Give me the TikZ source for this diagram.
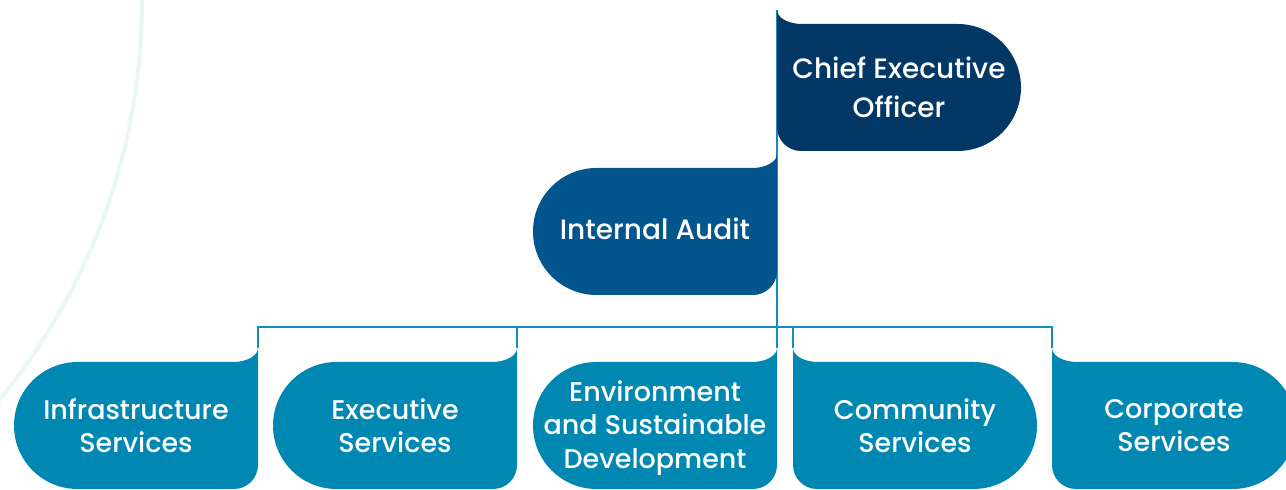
\documentclass[tikz,border=0pt]{standalone}
\usepackage{fontspec}
\setmainfont{Poppins}[UprightFont=* Medium]
\definecolor{ceoblue}{RGB}{3,55,102}
\definecolor{auditblue}{RGB}{2,85,141}
\definecolor{unitblue}{RGB}{0,136,179}
\definecolor{linkblue}{RGB}{16,143,186}
\definecolor{arcpale}{RGB}{236,246,245}

\tikzset{
  bubble/.pic={\fill[#1] (0,141) -- (0,24) arc[start angle=180,end angle=270,radius=24]
      -- (180.5,0) arc[start angle=-90,end angle=90,radius=63.5]
      -- (25,127) arc[start angle=270,end angle=180,x radius=25,y radius=14] -- cycle;},
  link/.style={linkblue, line width=2.2pt},
  toptext/.style={text=white, align=center, font=\fontsize{28}{39}\selectfont},
  unittext/.style={text=white, align=center, font=\fontsize{27}{33.5}\selectfont}
}

\begin{document}
\begin{tikzpicture}[x=1pt, y=1pt]
    \useasboundingbox (0,0) rectangle (1286,490);
    \clip (0,0) rectangle (1286,490);
    \draw[arcpale, line width=4pt] (-490,490) circle[radius=632];

    \coordinate (ceo-tab)   at (777,480);
    \coordinate (audit-tab) at (777,336);
    \coordinate (bus)       at (777,163);
    \coordinate (infra-tab) at (258,142);
    \coordinate (exec-tab)  at (517,142);
    \coordinate (env-tab)   at (777,142);
    \coordinate (comm-tab)  at (793,142);
    \coordinate (corp-tab)  at (1052,142);

    \draw[link] (ceo-tab) -- (env-tab);
    \foreach \u in {infra,exec,comm,corp}
      \draw[link] (bus) -| (\u-tab);

    \pic at (777,339) {bubble=ceoblue};
    \pic[xscale=-1] at (777,195) {bubble=auditblue};
    \pic[xscale=-1] at (258,1) {bubble=unitblue};
    \pic[xscale=-1] at (517,1) {bubble=unitblue};
    \pic[xscale=-1] at (777,1) {bubble=unitblue};
    \pic at (793,1) {bubble=unitblue};
    \pic at (1052,1) {bubble=unitblue};

    \node[toptext]  (ceo)   at (899,402.5) {Chief Executive\\Officer};
    \node[toptext]  (audit) at (655,261)   {Internal Audit};
    \node[unittext] (infra) at (136,64.5)  {Infrastructure\\Services};
    \node[unittext] (exec)  at (395,64.5)  {Executive\\Services};
    \node[unittext] (env)   at (655,62)    {Environment\\and Sustainable\\Development};
    \node[unittext] (comm)  at (915,64.5)  {Community\\Services};
    \node[unittext] (corp)  at (1174,64.5) {Corporate\\Services};
\end{tikzpicture}
\end{document}
